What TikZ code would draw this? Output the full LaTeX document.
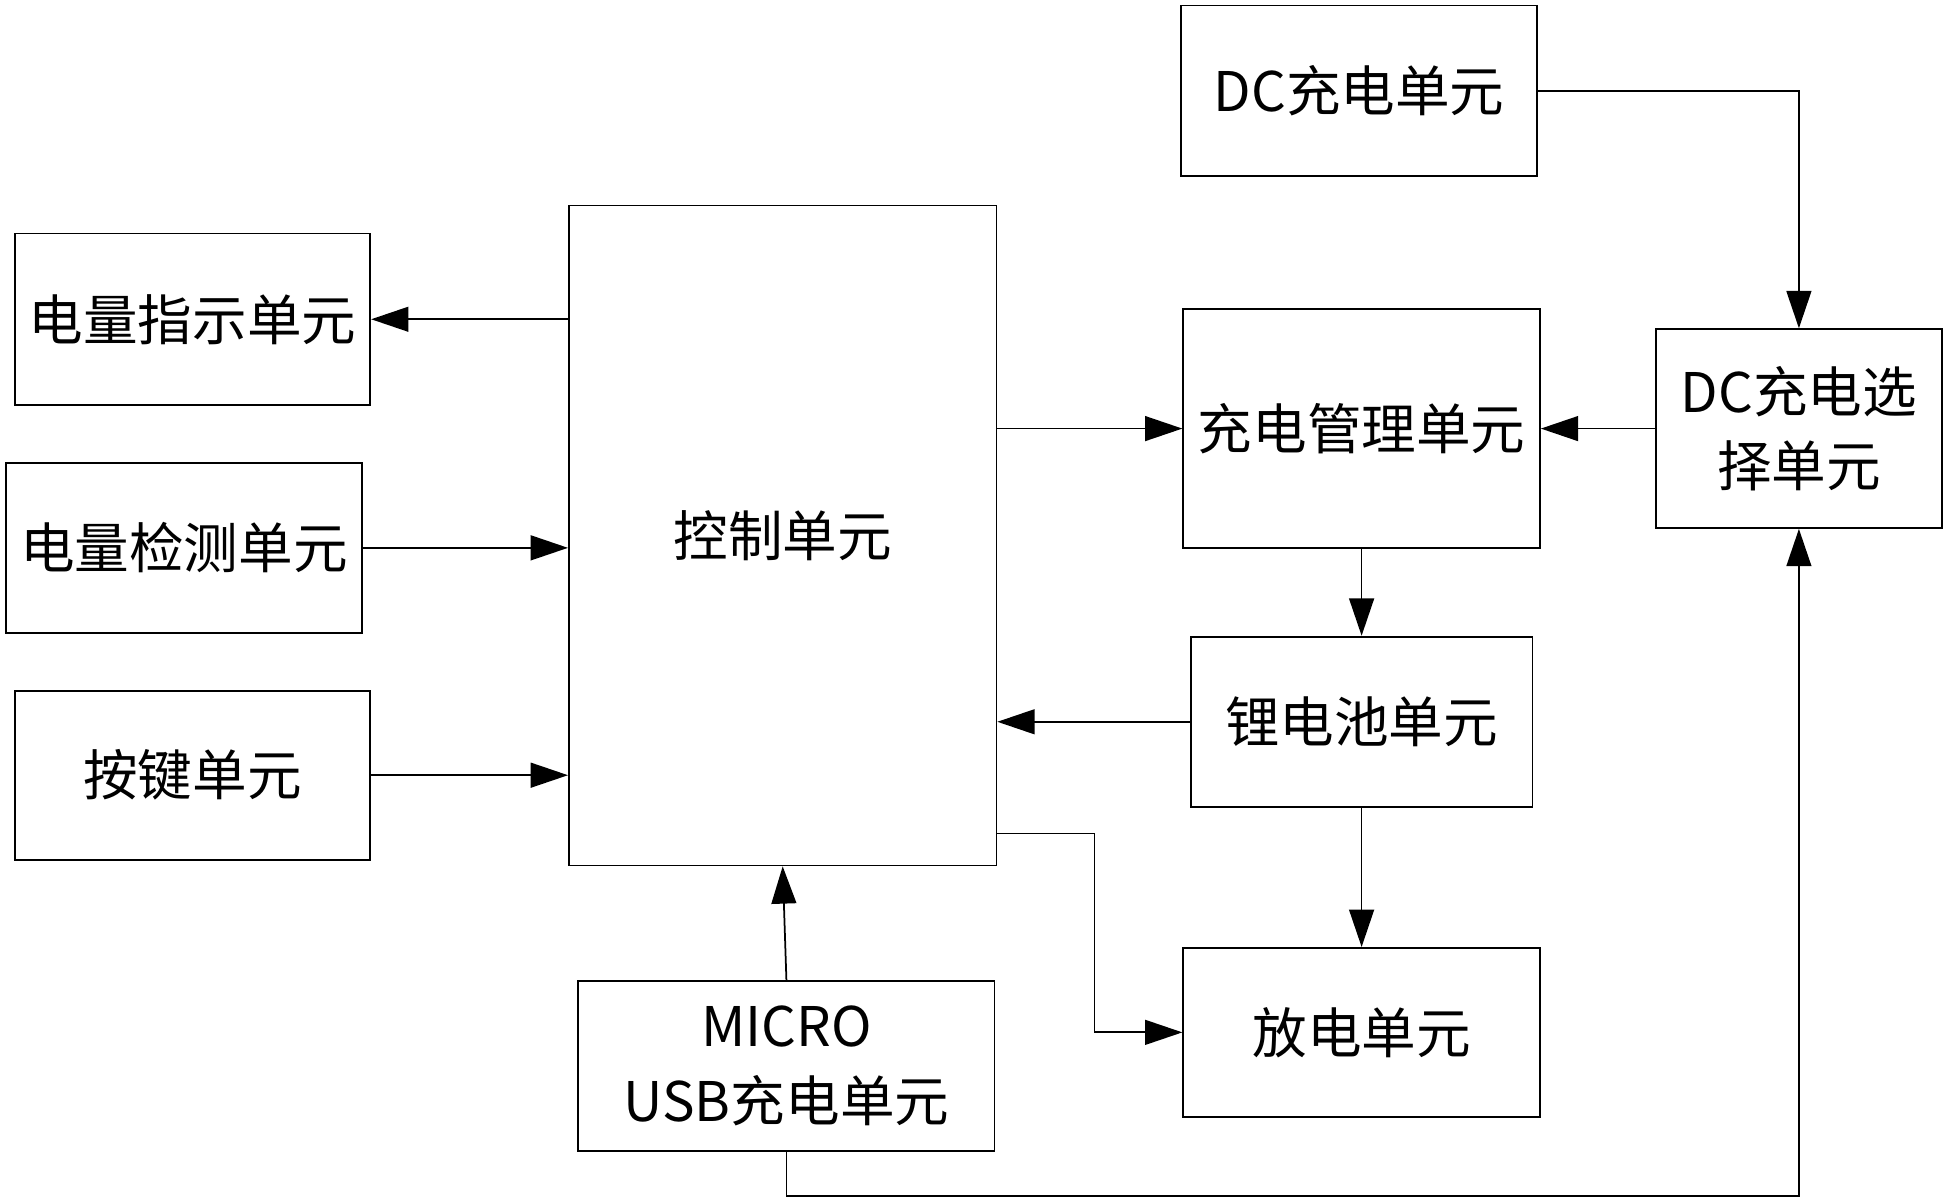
\documentclass[tikz,border=0pt]{standalone}
\usepackage{fontspec}
\setmainfont{Noto Sans CJK SC}
\usetikzlibrary{arrows.meta, positioning}

\begin{document}
\begin{tikzpicture}[
    x=0.01cm, y=-0.01cm,
    block/.style={draw, rectangle, inner sep=0pt, align=center, font=\fontsize{12.5pt}{17pt}\selectfont},
    arrow/.style={-{Triangle[length=3mm, width=2mm]}, thin}
    ]

    \useasboundingbox (0,0) rectangle (1568,968);

    \node[block, minimum width=2.86cm, minimum height=1.37cm] (dc) at (1094,73) {DC充电单元};
    \node[block, minimum width=2.86cm, minimum height=1.38cm] (indicate) at (155,257) {电量指示单元};
    \node[block, minimum width=2.86cm, minimum height=1.37cm] (detect) at (148,441) {电量检测单元};
    \node[block, minimum width=2.86cm, minimum height=1.36cm] (key) at (155,624) {按键单元};
    \node[block, minimum width=3.44cm, minimum height=5.31cm] (ctrl) at (630,431) {控制单元};
    \node[block, minimum width=2.87cm, minimum height=1.92cm] (manage) at (1096,345) {充电管理单元};
    \node[block, minimum width=2.30cm, minimum height=1.60cm] (select) at (1448,345) {DC充电选\\择单元};
    \node[block, minimum width=2.75cm, minimum height=1.37cm] (battery) at (1096,581) {锂电池单元};
    \node[block, minimum width=2.87cm, minimum height=1.36cm] (discharge) at (1096,831) {放电单元};
    \node[block, minimum width=3.35cm, minimum height=1.37cm] (usb) at (633,858) {MICRO\\USB充电单元};

    \coordinate (bend) at (881,671);
    \coordinate (bottom) at (633,963);

    \draw[arrow] (ctrl.west |- indicate) -- (indicate.east);
    \draw[arrow] (detect.east) -- (ctrl.west |- detect);
    \draw[arrow] (key.east) -- (ctrl.west |- key);
    \draw[arrow] (ctrl.east |- manage) -- (manage.west);
    \draw[arrow] (select.west) -- (manage.east);
    \draw[arrow] (dc.east) -| (select.north);
    \draw[arrow] (manage.south) -- (battery.north);
    \draw[arrow] (battery.west) -- (ctrl.east |- battery);
    \draw[arrow] (battery.south) -- (discharge.north);
    \draw[arrow] (ctrl.east |- bend) -- (bend) |- (discharge.west);
    \draw[arrow] (usb.north) -- (ctrl.south);
    \draw[arrow] (usb.south) -- (bottom) -| (select.south);

\end{tikzpicture}
\end{document}
